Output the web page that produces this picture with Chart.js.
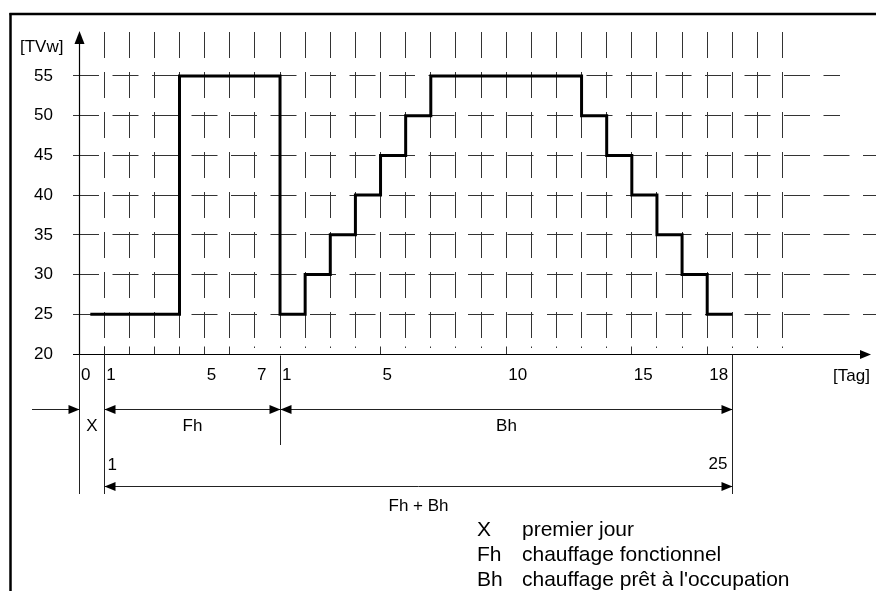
<!DOCTYPE html>
<html>
<head>
<meta charset="utf-8">
<script src="https://cdn.jsdelivr.net/npm/chart.js@4.4.0/dist/chart.umd.min.js"></script>
<style>
    html, body { margin: 0; padding: 0; background: #fff; }
    #wrap { width: 876px; height: 591px; }
</style>
</head>
<body>
<div id="wrap"><canvas id="graph_canvas" width="876" height="591"></canvas></div>
<script>
// step curve: value holds from day[i] until day[i+1]
const stepDays  = [0.45, 4, 8, 9, 10, 11, 12, 13, 14, 20, 21, 22, 23, 24, 25, 26];
const stepTemps = [25, 55, 25, 30, 35, 40, 45, 50, 55, 50, 45, 40, 35, 30, 25, 25];

const yTicks = [20, 25, 30, 35, 40, 45, 50, 55];
const xTickDays   = [0, 1, 5, 7, 8, 12, 17, 22, 25];
const xTickLabels = ['0', '1', '5', '7', '1', '5', '10', '15', '18'];
const gridDays = [1, 2, 3, 4, 5, 6, 7, 8, 9, 10, 11, 12, 13, 14, 15, 16, 17, 18, 19, 20, 21, 22, 23, 24, 25, 26, 27, 28];
const majorTickDays = [1, 2, 3, 4, 5, 6, 12, 17, 22, 25];

const phaseDays  = [0, 1, 8, 26];      // X | Fh | Bh
const phaseNames = ['X', 'Fh', 'Bh'];
const totalName  = 'Fh + Bh';
const totalFirst = '1';
const totalLast  = '25';

const legendKeys  = ['X', 'Fh', 'Bh'];
const legendTexts = ['premier jour', 'chauffage fonctionnel', "chauffage prêt à l'occupation"];
const yTitle = '[TVw]';
const xTitle = '[Tag]';

const FONT = "'Liberation Sans', Arial, sans-serif";

function crisp(v) {
    return Math.floor(v) + 0.5;
}
function line(ctx, x1, y1, x2, y2) {
    ctx.beginPath();
    ctx.moveTo(x1, y1);
    ctx.lineTo(x2, y2);
    ctx.stroke();
}
// filled arrow head, tip at (x,y), dir = 1 points right, -1 left
function head(ctx, x, y, dir) {
    ctx.beginPath();
    ctx.moveTo(x, y);
    ctx.lineTo(x - dir * 11, y - 4.5);
    ctx.lineTo(x - dir * 11, y + 4.5);
    ctx.closePath();
    ctx.fill();
}
function dimArrow(ctx, x1, x2, y) {
    line(ctx, x1, y, x2, y);
    head(ctx, x1, y, -1);
    head(ctx, x2, y, 1);
}

const diagram = {
    id: 'diagram',
    beforeDatasetsDraw(chart) {
        const ctx = chart.ctx;
        const xs = chart.scales.x, ys = chart.scales.y;
        const y0 = crisp(ys.getPixelForValue(20));
        ctx.save();
        ctx.strokeStyle = '#333';
        ctx.lineWidth = 1;
        // dashed vertical grid
        ctx.setLineDash([26, 14]);
        gridDays.forEach(d => {
            const x = crisp(xs.getPixelForValue(d));
            line(ctx, x, 32, x, y0 - 14);
        });
        // dashed horizontal grid
        ctx.setLineDash([26, 13.5]);
        yTicks.slice(1).forEach(v => {
            const y = crisp(ys.getPixelForValue(v));
            line(ctx, 73, y, v >= 50 ? 840 : 876, y);
        });
        ctx.setLineDash([]);
        // little ticks above the time axis
        gridDays.forEach(d => {
            const x = crisp(xs.getPixelForValue(d));
            const len = majorTickDays.includes(d) ? 8 : 1.5;
            line(ctx, x, y0 - 8, x, y0 - 8 + len);
        });
        ctx.restore();
    },
    afterDatasetsDraw(chart) {
        const ctx = chart.ctx;
        const xs = chart.scales.x, ys = chart.scales.y;
        const y0 = crisp(ys.getPixelForValue(20));
        const x0 = crisp(xs.getPixelForValue(0));
        const px = phaseDays.map(d => crisp(xs.getPixelForValue(d)));

        ctx.save();
        ctx.strokeStyle = '#000';
        ctx.fillStyle = '#000';
        ctx.lineWidth = 1.2;

        // axes with arrows
        line(ctx, 73, y0, 860, y0);
        head(ctx, 871, y0, 1);
        line(ctx, x0, y0, x0, 42);
        ctx.beginPath();
        ctx.moveTo(x0, 31);
        ctx.lineTo(x0 - 5, 44);
        ctx.lineTo(x0 + 5, 44);
        ctx.closePath();
        ctx.fill();

        // dimension lines below the axis
        ctx.lineWidth = 1;
        ctx.strokeStyle = '#222';
        line(ctx, px[0], y0, px[0], 494);
        line(ctx, px[1], y0 - 8, px[1], 494);
        line(ctx, px[2], y0 + 1, px[2], 445);
        line(ctx, px[3], y0, px[3], 494);

        const rowY = 409.5, totalY = 486.5;
        line(ctx, 32, rowY, px[0], rowY);
        head(ctx, px[0], rowY, 1);
        dimArrow(ctx, px[1], px[2], rowY);
        dimArrow(ctx, px[2], px[3], rowY);
        dimArrow(ctx, px[1], px[3], totalY);

        // texts
        ctx.font = '17px ' + FONT;
        ctx.textBaseline = 'alphabetic';
        ctx.textAlign = 'center';
        for (let i = 0; i < phaseNames.length; i++) {
            ctx.fillText(phaseNames[i], (px[i] + px[i + 1]) / 2, 431);
        }
        ctx.fillText(totalName, (px[1] + px[3]) / 2, 511);
        ctx.textAlign = 'left';
        ctx.fillText(totalFirst, px[1] + 3, 470);
        ctx.fillText(yTitle, 20, 52);
        ctx.fillText(xTitle, 833, 381);
        ctx.textAlign = 'right';
        ctx.fillText(totalLast, px[3] - 5, 469);

        // legend
        ctx.font = '21px ' + FONT;
        ctx.textAlign = 'left';
        for (let i = 0; i < legendKeys.length; i++) {
            ctx.fillText(legendKeys[i], 477, 536 + i * 25);
            ctx.fillText(legendTexts[i], 522, 536 + i * 25);
        }

        // frame (top and left only, picture is cropped)
        ctx.lineWidth = 2.5;
        ctx.strokeStyle = '#000';
        line(ctx, 9.5, 14, 876, 14);
        line(ctx, 10.5, 13, 10.5, 591);
        ctx.restore();
    }
};

const canvas = document.getElementById('graph_canvas');
const chart = new Chart(canvas.getContext('2d'), {
    type: 'line',
    data: {
        datasets: [{
            data: stepDays.map((d, i) => ({ x: d, y: stepTemps[i] })),
            stepped: 'before',
            borderColor: '#000',
            borderWidth: 3,
            borderJoinStyle: 'miter',
            pointRadius: 0,
            fill: false
        }]
    },
    options: {
        responsive: false,
        animation: false,
        devicePixelRatio: 1,
        layout: { padding: { top: 34, right: 13, bottom: 0, left: 0 } },
        plugins: { legend: { display: false }, tooltip: { enabled: false } },
        scales: {
            x: {
                type: 'linear',
                min: 0,
                max: 31.2,
                grid: { display: false, drawTicks: false },
                border: { display: false },
                afterBuildTicks: s => { s.ticks = xTickDays.map(v => ({ value: v })); },
                afterFit: s => { s.height = 591 - 354; },
                ticks: {
                    autoSkip: false,
                    maxRotation: 0,
                    align: 'start',
                    labelOffset: 2,
                    padding: 11,
                    color: '#000',
                    font: { family: FONT, size: 17 },
                    callback: v => {
                        const i = xTickDays.indexOf(v);
                        return i < 0 ? '' : xTickLabels[i];
                    }
                }
            },
            y: {
                type: 'linear',
                min: 20,
                max: 60,
                grid: { display: false, drawTicks: false },
                border: { display: false },
                afterBuildTicks: s => { s.ticks = yTicks.map(v => ({ value: v })); },
                afterFit: s => { s.width = 79; },
                ticks: {
                    padding: 26,
                    color: '#000',
                    font: { family: FONT, size: 17 }
                }
            }
        }
    },
    plugins: [diagram]
});
</script>
</body>
</html>
